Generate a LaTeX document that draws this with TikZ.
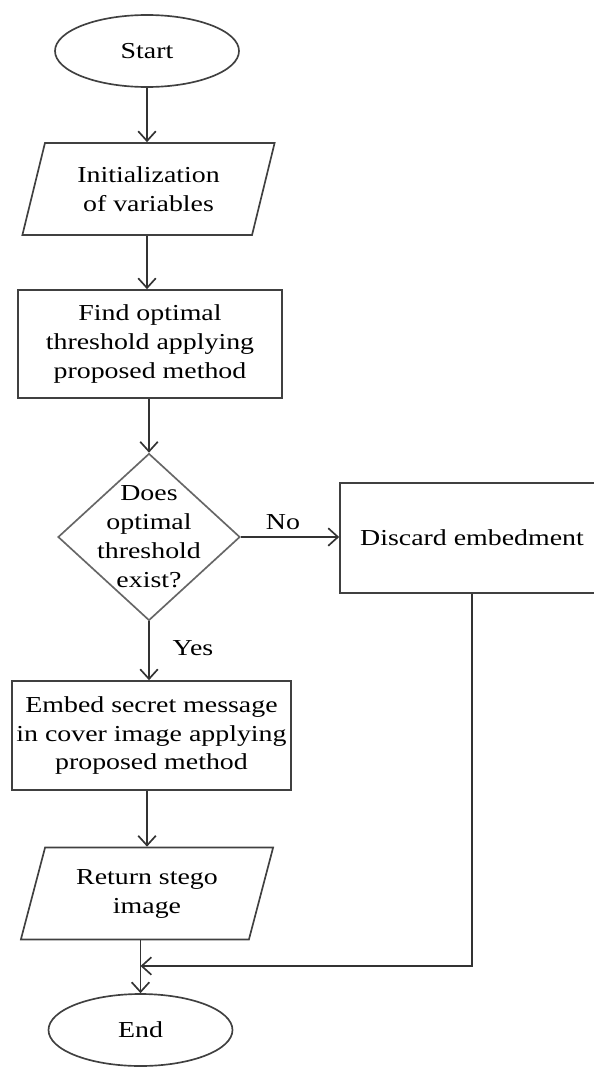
\documentclass[tikz,border=0pt]{standalone}
\usepackage{fontspec}
\setmainfont{Liberation Serif}[FakeStretch=1.22]
\usetikzlibrary{shapes.geometric,arrows.meta}

\begin{document}
\begin{tikzpicture}[
    font=\fontsize{13}{16.5}\selectfont,
    line width=0.95pt,
    term/.style={ellipse, draw=black!75, minimum width=3.68cm, minimum height=1.44cm, inner sep=0pt},
    io/.style={trapezium, trapezium left angle=71, trapezium right angle=109, trapezium stretches=true,
        draw=black!75, minimum width=5.06cm, minimum height=1.84cm, inner sep=0pt, align=center},
    proc/.style={rectangle, draw=black!75, inner sep=0pt, align=center},
    decision/.style={diamond, draw=black!60, minimum width=3.64cm, minimum height=3.34cm, inner sep=-6pt, align=center},
    flow/.style={draw=black!80, -{Straight Barb[length=5.5pt, width=10pt]}}
]
    \useasboundingbox (0,0) rectangle (11.86,-21.36);

    % Steps
    \node[term] (start) at (2.94,-1.02) {Start};
    \node[io] (init) at (2.97,-3.78) {Initialization\\of variables};
    \node[proc, minimum width=5.28cm, minimum height=2.16cm] (find) at (3.0,-6.88) {Find optimal\\threshold applying\\proposed method};
    \node[decision] (check) at (2.98,-10.74) {Does\\optimal\\threshold\\exist?};
    \node[proc, minimum width=5.28cm, minimum height=2.2cm] (discard) at (9.44,-10.76) {Discard embedment};
    \node[proc, minimum width=5.58cm, minimum height=2.18cm] (embed) at (3.03,-14.71) {Embed secret message\\in cover image applying\\proposed method};
    \node[io] (ret) at (2.94,-17.87) {Return stego\\image};
    \node[term] (end) at (2.81,-20.6) {End};
    \coordinate (join) at (2.81,-19.32);

    % Connectors
    \draw[flow] (start.south) -- (start.south |- init.north);
    \draw[flow] (init.south -| start.south) -- (start.south |- find.north);
    \draw[flow] (find.south -| check.north) -- (check.north);
    \draw[flow] (check.east) -- (check.east -| discard.west);
    \draw[flow] (check.south) -- (check.south |- embed.north);
    \draw[flow] (embed.south -| ret.north) -- (ret.north);
    \draw[flow] (ret.south -| end.north) -- (end.north);
    \draw[flow] (discard.south) |- (join);

    % Labels
    \node (no) at (5.66,-10.44) {No};
    \node (yes) at (3.86,-12.96) {Yes};
\end{tikzpicture}
\end{document}
